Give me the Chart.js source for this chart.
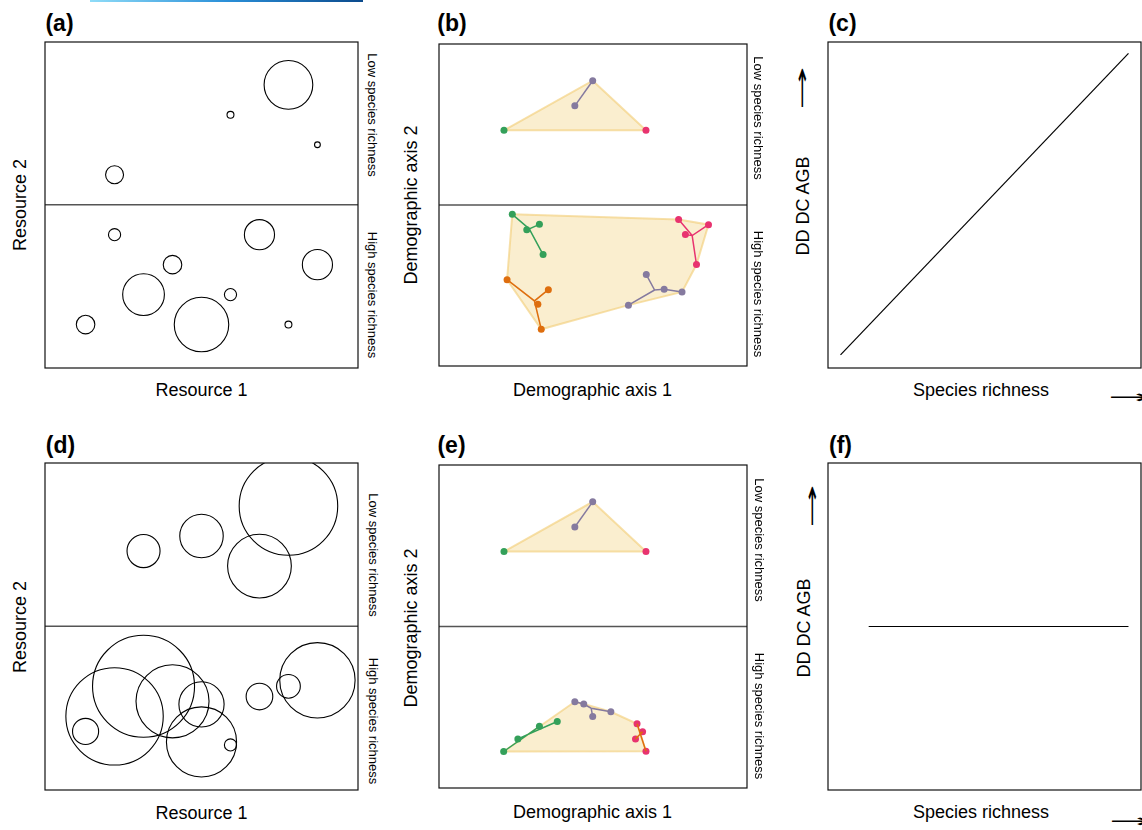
<!DOCTYPE html>
<html>
<head>
<meta charset="utf-8">
<script src="https://cdn.jsdelivr.net/npm/chart.js@4.4.0/dist/chart.umd.min.js"></script>
<style>
  body { margin: 0; background: #fff; font-family: "Liberation Sans", Arial, sans-serif; }
  #fig { position: relative; width: 1142px; height: 830px; overflow: hidden; }
  #fig canvas { position: absolute; }
  .t { position: absolute; white-space: nowrap; line-height: 1; color: #000; }
  .bar { position: absolute; left: 90px; top: 0; width: 273px; height: 2px;
         background: linear-gradient(to right, #8fdcf8, #2a8fd8, #0b4a8c); }
</style>
</head>
<body>
<div id="fig">
  <div class="bar"></div>
  <canvas id="pa"></canvas><canvas id="pb"></canvas><canvas id="pc"></canvas>
  <canvas id="pd"></canvas><canvas id="pe"></canvas><canvas id="pf"></canvas>
</div>
<script>
// ---- resource space: [resource 1, resource 2, niche radius] ----
const nicheLowA = [[8, 9, 0.84], [6, 8, 0.12], [9, 7, 0.1], [2, 6, 0.31]];
const nicheHighA = [[2, 4, 0.21], [7, 4, 0.52], [4, 3, 0.32], [9, 3, 0.52], [3, 2, 0.72],
                    [6, 2, 0.21], [1, 1, 0.32], [5, 1, 0.94], [8, 1, 0.12]];
const nicheLowD = [[8, 9, 1.7], [5, 8, 0.75], [3, 7.5, 0.57], [7, 7, 1.1]];
const nicheHighD = [[3, 3, 1.76], [2, 2, 1.68], [4, 2.5, 1.26], [5, 2.4, 0.78], [5, 1.15, 1.21],
                    [1, 1.5, 0.45], [6, 1.05, 0.21], [7, 2.66, 0.46], [8, 3, 0.41], [9, 3.2, 1.3]];
const resX = [-0.4, 10.4];
const resY = [-0.45, 10.43];
const resSplit = 5;

// ---- demographic space: [axis 1, axis 2] ----
const lowGreen = [[21.1, 73.2]];
const lowPurple = [[49.9, 88.6], [44.1, 80.8]];
const lowPink = [[67.2, 73.2]];
const lowPurpleTree = [[44.1, 80.8], [49.9, 88.6]];
const lowHull = [[21.1, 73.2], [49.9, 88.6], [67.2, 73.2], [21.1, 73.2]];

const bGreen = [[23.8, 47.1], [28.5, 42.3], [32.6, 44.0], [33.8, 34.6]];
const bGreenTree = [[23.8, 47.1], [29.3, 42.6], [32.6, 44.0], null, [29.3, 42.6], [33.8, 34.6]];
const bOrange = [[22.1, 26.8], [35.5, 23.7], [32.1, 19.2], [33.2, 11.4]];
const bOrangeTree = [[22.1, 26.8], [31.0, 20.2], [35.5, 23.7], null, [31.0, 20.2], [33.2, 11.4]];
const bPurple = [[67.3, 28.4], [73.1, 23.8], [78.9, 23.0], [61.5, 18.9]];
const bPurpleTree = [[67.3, 28.4], [70.0, 23.6], [73.1, 23.8], [78.9, 23.0], null, [70.0, 23.6], [61.5, 18.9]];
const bPink = [[77.8, 45.5], [87.5, 43.9], [80.0, 40.8], [83.6, 31.5]];
const bPinkTree = [[77.8, 45.5], [82.2, 40.5], [87.5, 43.9], null, [80.0, 40.8], [82.2, 40.5], [83.6, 31.5]];
const bHull = [[23.8, 47.1], [77.8, 45.5], [87.5, 43.9], [83.6, 31.5], [78.9, 23.0],
               [61.5, 18.9], [33.2, 11.4], [22.1, 26.8], [23.8, 47.1]];

const eGreen = [[21.0, 11.3], [25.6, 15.2], [32.6, 19.1], [38.4, 20.6]];
const eGreenTree = [[21.0, 11.3], [32.6, 19.1], null, [25.6, 15.2], [38.4, 20.6]];
const ePurple = [[44.1, 26.7], [47.0, 26.0], [55.8, 23.6], [49.9, 22.1]];
const ePurpleTree = [[44.1, 26.7], [47.0, 26.0], [49.4, 24.7], [55.8, 23.6], null, [49.4, 24.7], [49.9, 22.1]];
const ePink = [[64.3, 19.9], [66.1, 17.4], [63.8, 15.2], [67.2, 11.4]];
const eOrangeTree = [[64.3, 19.9], [67.2, 11.4], null, [63.8, 15.2], [66.1, 17.4]];
const eHull = [[21.0, 11.3], [44.1, 26.7], [47.0, 26.0], [55.8, 23.6], [64.3, 19.9], [67.2, 11.4], [21.0, 11.3]];
const demoSplit = 50;

// ---- richness vs DD/DC/AGB: [species richness, response] ----
const ddRising = [[0.04, 0.04], [0.96, 0.965]];
const ddFlat = [[0.13, 0.5], [0.96, 0.5]];

const GREEN = '#34a05a', ORANGE = '#de6e0e', PURPLE = '#857a9f', PINK = '#e8336f';

// panel boxes on the page: left, top, right, bottom
const boxes = {
  pa: [45, 42, 358, 368], pb: [437, 42, 749, 368], pc: [828, 42, 1141, 368],
  pd: [45, 463, 358, 790], pe: [437, 463, 749, 790], pf: [828, 463, 1141, 790]
};

const xy = p => p ? { x: p[0], y: p[1] } : { x: null, y: null };

const frame = {
  id: 'frame',
  afterDraw(chart) {
    const { ctx, chartArea: a } = chart;
    ctx.save();
    ctx.strokeStyle = '#111';
    ctx.lineWidth = 1.2;
    ctx.strokeRect(a.left, a.top, a.right - a.left, a.bottom - a.top);
    ctx.restore();
  }
};

function place(id) {
  const b = boxes[id];
  const c = document.getElementById(id);
  c.width = b[2] - b[0] + 4;
  c.height = b[3] - b[1] + 4;
  c.style.left = (b[0] - 2) + 'px';
  c.style.top = (b[1] - 2) + 'px';
  return c;
}

function opts(xr, yr) {
  return {
    responsive: false, animation: false, events: [],
    layout: { padding: 2 },
    plugins: { legend: { display: false }, tooltip: { enabled: false } },
    scales: {
      x: { type: 'linear', display: false, min: xr[0], max: xr[1] },
      y: { type: 'linear', display: false, min: yr[0], max: yr[1] }
    }
  };
}

function divider(xr, value) {
  return { type: 'line', data: [{ x: xr[0], y: value }, { x: xr[1], y: value }],
           borderColor: '#555', borderWidth: 1.5, pointRadius: 0, order: 9 };
}

// niche circles: radius in resource units, turned into pixels by the x scale
function rings(pts) {
  return {
    type: 'scatter',
    data: pts.map(p => ({ x: p[0], y: p[1], size: p[2] })),
    pointBackgroundColor: 'rgba(0,0,0,0)', pointBorderColor: '#000', pointBorderWidth: 1.1,
    clip: 0, order: 1,
    pointRadius: ctx => {
      const s = ctx.chart.scales.x;
      if (!ctx.raw) return 0;
      const r = s.getPixelForValue(ctx.raw.size) - s.getPixelForValue(0);
      return isFinite(r) ? r : 0;
    }
  };
}

function nicheChart(id, low, high) {
  new Chart(place(id), {
    type: 'scatter',
    data: { datasets: [divider(resX, resSplit), rings(low), rings(high)] },
    options: opts(resX, resY),
    plugins: [frame]
  });
}

function hull(pts) {
  return { type: 'line', data: pts.map(xy), fill: 'shape', tension: 0,
           backgroundColor: 'rgba(244,214,140,0.42)', borderColor: 'rgba(242,208,125,0.65)',
           borderWidth: 2, pointRadius: 0, order: 5 };
}
function tree(path, color) {
  return { type: 'line', data: path.map(xy), borderColor: color, borderWidth: 1.5,
           pointRadius: 0, fill: false, spanGaps: false, tension: 0, order: 3 };
}
function dots(pts, color) {
  return { type: 'scatter', data: pts.map(xy), backgroundColor: color, borderWidth: 0,
           pointRadius: 3.5, order: 1 };
}

function demoChart(id, sets) {
  new Chart(place(id), {
    type: 'scatter',
    data: { datasets: [divider([0, 100], demoSplit)].concat(sets) },
    options: opts([0, 100], [0, 100]),
    plugins: [frame]
  });
}

function trendChart(id, line) {
  new Chart(place(id), {
    type: 'scatter',
    data: { datasets: [{ type: 'line', data: line.map(xy), borderColor: '#000', borderWidth: 1.2,
                         pointRadius: 0, tension: 0 }] },
    options: opts([0, 1], [0, 1]),
    plugins: [frame]
  });
}

nicheChart('pa', nicheLowA, nicheHighA);
nicheChart('pd', nicheLowD, nicheHighD);

const lowSets = () => [hull(lowHull), tree(lowPurpleTree, PURPLE),
                       dots(lowGreen, GREEN), dots(lowPurple, PURPLE), dots(lowPink, PINK)];
demoChart('pb', lowSets().concat([
  hull(bHull),
  tree(bGreenTree, GREEN), tree(bOrangeTree, ORANGE), tree(bPurpleTree, PURPLE), tree(bPinkTree, PINK),
  dots(bGreen, GREEN), dots(bOrange, ORANGE), dots(bPurple, PURPLE), dots(bPink, PINK)
]));
demoChart('pe', lowSets().concat([
  hull(eHull),
  tree(eGreenTree, GREEN), tree(ePurpleTree, PURPLE),
  dots(eGreen, GREEN), dots(ePurple, PURPLE), dots(ePink, PINK),
  Object.assign(tree(eOrangeTree, ORANGE), { order: 0 })
]));

trendChart('pc', ddRising);
trendChart('pf', ddFlat);

// ---- text ----
const fig = document.getElementById('fig');
function put(text, cx, cy, size, rot, weight, family, stretch) {
  const d = document.createElement('div');
  d.className = 't';
  d.textContent = text;
  d.style.left = cx + 'px';
  d.style.top = cy + 'px';
  d.style.fontSize = size + 'px';
  if (weight) d.style.fontWeight = weight;
  if (family) d.style.fontFamily = family;
  d.style.transform = 'translate(-50%,-50%) rotate(' + (rot || 0) + 'deg)' +
    (stretch ? ' scale(' + stretch + ',1)' : '');
  fig.appendChild(d);
}

[['(a)', 59.5, 23], ['(b)', 452, 23], ['(c)', 842.5, 23],
 ['(d)', 60.5, 445], ['(e)', 451.5, 445], ['(f)', 840.5, 445]]
  .forEach(l => put(l[0], l[1], l[2], 23, 0, 'bold'));

put('Resource 1', 201.5, 390, 18);
put('Resource 1', 201.5, 813, 18);
put('Resource 2', 20, 205, 18, -90);
put('Resource 2', 20, 627, 18, -90);
put('Demographic axis 1', 592.5, 390, 18);
put('Demographic axis 1', 592.5, 812, 18);
put('Demographic axis 2', 410.5, 205, 18, -90);
put('Demographic axis 2', 410.5, 627.5, 18, -90);
put('Species richness', 981, 390, 18);
put('Species richness', 981, 812, 18);
put('DD DC AGB', 803, 206, 18, -90);
put('DD DC AGB', 803.5, 627.5, 18, -90);

put('Low species richness', 372, 114.5, 13, 90);
put('High species richness', 372, 295, 13, 90);
put('Low species richness', 758.3, 117.5, 13, 90);
put('High species richness', 758.3, 294, 13, 90);
put('Low species richness', 372.5, 555, 13, 90);
put('High species richness', 372.5, 721, 13, 90);
put('Low species richness', 758.5, 540, 13, 90);
put('High species richness', 758.5, 716, 13, 90);

put('\u2192', 802, 87.5, 18, -90, 'normal', '"DejaVu Sans"', 2.9);
put('\u2192', 811.5, 506, 18, -90, 'normal', '"DejaVu Sans"', 2.9);
put('\u2192', 1130, 397, 18, 0, 'normal', '"DejaVu Sans"', 2.9);
put('\u2192', 1131, 821, 18, 0, 'normal', '"DejaVu Sans"', 2.9);
</script>
</body>
</html>
